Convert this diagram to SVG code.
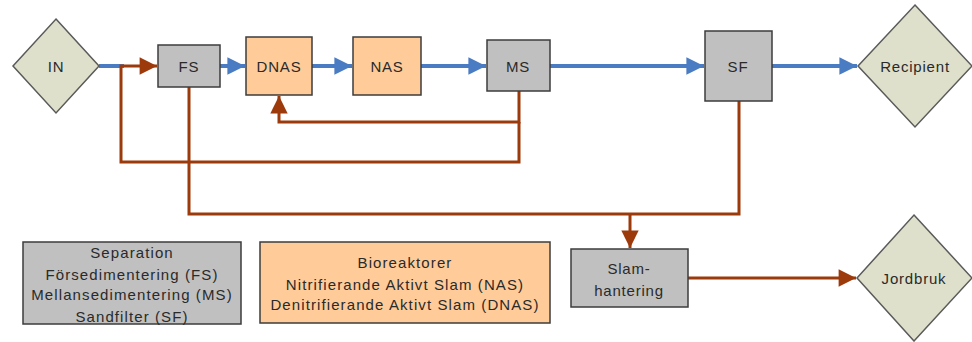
<svg xmlns="http://www.w3.org/2000/svg" width="972" height="342" viewBox="0 0 972 342">
  <style>
    .box { stroke: #3c3c3c; stroke-width: 1.5; }
    .sep { fill: #c0c0c0; }
    .bio { fill: #ffcc99; }
    .end { fill: #dee0cb; stroke: #5a5a5a; stroke-width: 1.5; }
    text { font-family: "Liberation Sans", Arial, sans-serif; fill: #2a2a2a; text-anchor: middle; dominant-baseline: central; }
    .lbl { font-size: 15px; letter-spacing: 0.8px; }
    .leg { font-size: 15px; letter-spacing: 1.1px; }
    .water { fill: none; stroke: #4a7cc4; stroke-width: 4; }
    .sludge { fill: none; stroke: #9c3a0c; stroke-width: 3; stroke-linejoin: miter; }
  </style>
  <defs>
    <marker id="blueHead" viewBox="0 0 10 10" refX="10" refY="5" markerWidth="4.8" markerHeight="4.4" markerUnits="strokeWidth" orient="auto">
      <path d="M0,0 L10,5 L0,10 z" fill="#4a7cc4"/>
    </marker>
    <marker id="brownHead" viewBox="0 0 10 10" refX="10" refY="5" markerWidth="6.2" markerHeight="5.8" markerUnits="strokeWidth" orient="auto">
      <path d="M0,0 L10,5 L0,10 z" fill="#9c3a0c"/>
    </marker>
  </defs>

  <!-- connectors: blue = water line, brown = sludge line -->
  <g id="connectors">
    <path class="water" d="M99,66 H124"/>
    <path class="water" d="M220,66 H245" marker-end="url(#blueHead)"/>
    <path class="water" d="M312,66 H352" marker-end="url(#blueHead)"/>
    <path class="water" d="M421,66 H486" marker-end="url(#blueHead)"/>
    <path class="water" d="M550,66 H704" marker-end="url(#blueHead)"/>
    <path class="water" d="M772,66 H857" marker-end="url(#blueHead)"/>

    <path class="sludge" d="M519,91 V122 H279 V96" marker-end="url(#brownHead)"/>
    <path class="sludge" d="M519,122 V162 H121 V66 H157" marker-end="url(#brownHead)"/>
    <path class="sludge" d="M189,87 V214 H739 V101"/>
    <path class="sludge" d="M630,214 V248" marker-end="url(#brownHead)"/>
    <path class="sludge" d="M688,278 H856" marker-end="url(#brownHead)"/>
  </g>

  <g id="IN">
    <polygon class="end" points="56,19 99,66 56,113 13,66"/>
    <text class="lbl" x="56" y="66">IN</text>
  </g>
  <g id="FS">
    <rect class="box sep" x="158" y="45" width="62" height="42"/>
    <text class="lbl" x="189" y="66">FS</text>
  </g>
  <g id="DNAS">
    <rect class="box bio" x="246" y="37" width="66" height="58"/>
    <text class="lbl" x="279" y="66">DNAS</text>
  </g>
  <g id="NAS">
    <rect class="box bio" x="353" y="37" width="68" height="58"/>
    <text class="lbl" x="387" y="66">NAS</text>
  </g>
  <g id="MS">
    <rect class="box sep" x="487" y="40" width="63" height="51"/>
    <text class="lbl" x="518" y="66">MS</text>
  </g>
  <g id="SF">
    <rect class="box sep" x="705" y="31" width="67" height="70"/>
    <text class="lbl" x="738" y="66">SF</text>
  </g>
  <g id="Recipient">
    <polygon class="end" points="915,5 972,66 915,127 858,66"/>
    <text class="lbl" x="915" y="66">Recipient</text>
  </g>
  <g id="Slamhantering">
    <rect class="box sep" x="571" y="249" width="117" height="58"/>
    <text class="lbl" x="629" y="268">Slam-</text>
    <text class="lbl" x="629" y="290">hantering</text>
  </g>
  <g id="Jordbruk">
    <polygon class="end" points="914,215 972,278 914,341 857,278"/>
    <text class="lbl" x="914" y="278">Jordbruk</text>
  </g>

  <g id="legend-separation">
    <rect class="box sep" x="23" y="242" width="218" height="82"/>
    <text class="leg" x="132" y="252">Separation</text>
    <text class="leg" x="132" y="274">Försedimentering (FS)</text>
    <text class="leg" x="132" y="294">Mellansedimentering (MS)</text>
    <text class="leg" x="132" y="316">Sandfilter (SF)</text>
  </g>
  <g id="legend-bioreaktorer">
    <rect class="box bio" x="260" y="242" width="290" height="81"/>
    <text class="leg" x="405" y="262">Bioreaktorer</text>
    <text class="leg" x="405" y="284">Nitrifierande Aktivt Slam (NAS)</text>
    <text class="leg" x="405" y="304">Denitrifierande Aktivt Slam (DNAS)</text>
  </g>
</svg>
